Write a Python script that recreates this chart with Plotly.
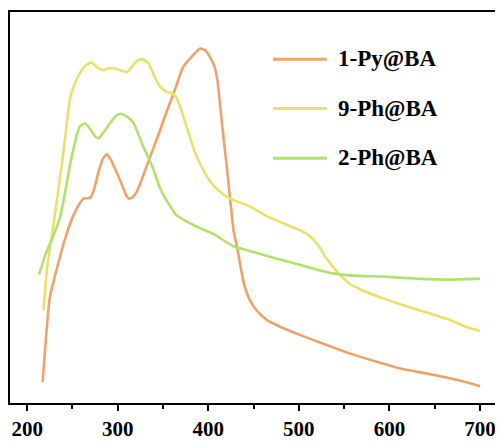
import plotly.graph_objects as go

# Wavelength (nm) and relative absorbance (arbitrary units)
py_x = [217, 225, 233, 242, 251, 258, 262, 270, 274, 279, 284, 288, 292, 296, 300, 305,
        309, 312, 316, 321, 326, 336, 345, 352, 363, 372, 380, 386, 391, 397, 402, 407,
        410, 415, 421, 428, 432, 439, 446, 455, 465, 480, 501, 530, 557, 585, 612, 640,
        667, 685, 700]
py_y = [21, 107, 137, 167, 190, 202, 207, 208, 217, 235, 248, 252, 247, 239, 231, 220,
        211, 207, 208, 214, 225, 250, 272, 290, 317, 340, 349, 355, 359, 357, 350, 340,
        327, 284, 234, 174, 157, 122, 104, 92, 84, 77, 69, 59, 50, 42, 35, 30, 25, 21, 17]

ph9_x = [218, 222, 228, 233, 239, 243, 247, 252, 258, 265, 271, 277, 284, 290, 295, 303,
         310, 316, 322, 328, 334, 340, 346, 354, 360, 365, 370, 376, 384, 391, 398, 405,
         413, 422, 432, 446, 465, 483, 501, 512, 522, 530, 545, 556, 568, 590, 612, 640,
         667, 685, 700]
ph9_y = [94, 137, 174, 207, 247, 277, 307, 322, 334, 342, 345, 340, 337, 339, 339, 337,
         335, 341, 347, 348, 344, 332, 321, 315, 314, 309, 297, 280, 257, 242, 230, 221,
         214, 208, 204, 199, 189, 182, 175, 169, 159, 147, 130, 121, 115, 107, 100, 92,
         84, 77, 73]

ph2_x = [213, 220, 229, 236, 242, 247, 251, 255, 258, 264, 270, 275, 279, 285, 292, 298,
         303, 310, 317, 322, 328, 338, 347, 356, 365, 378, 391, 406, 427, 446, 465, 501,
         534, 560, 593, 630, 667, 700]
ph2_y = [130, 150, 170, 187, 214, 240, 257, 272, 280, 283, 277, 270, 268, 275, 284, 291,
         293, 290, 284, 274, 260, 240, 217, 202, 190, 183, 177, 171, 159, 154, 149, 140,
         132, 129, 128, 126, 125, 126]

names = ["1-Py@BA", "9-Ph@BA", "2-Ph@BA"]
colors = ["#EFA26C", "#E6E26A", "#B2E26C"]
xs = [py_x, ph9_x, ph2_x]
ys = [py_y, ph9_y, ph2_y]

tick_vals = [200, 300, 400, 500, 600, 700]
tick_text = ["200", "300", "400", "500", "600", "700"]

serif = "Times New Roman, Liberation Serif, serif"

fig = go.Figure()
for n, c, x, y in zip(names, colors, xs, ys):
    fig.add_trace(go.Scatter(x=x, y=y, mode="lines", name=n,
                             line=dict(color=c, width=2.6, shape="spline", smoothing=0.5),
                             showlegend=False))

# legend drawn as line samples + text labels
leg_y = [0.879, 0.753, 0.626]
for n, c, ly in zip(names, colors, leg_y):
    fig.add_shape(type="line", xref="paper", yref="paper", x0=0.538, x1=0.648, y0=ly, y1=ly,
                  line=dict(color=c, width=3))
    fig.add_annotation(xref="paper", yref="paper", x=0.666, y=ly, text="<b>%s</b>" % n, showarrow=False,
                       xanchor="left", yanchor="middle",
                       font=dict(family=serif, size=23, color="black"))

# page body has an 8px margin; size the figure to fill the rest of the window
fig.update_layout(
    width=495, height=435,
    margin=dict(l=2, r=4, t=3, b=36),
    paper_bgcolor="white", plot_bgcolor="white",
    xaxis=dict(range=[181, 721], tickvals=tick_vals, ticktext=["<b>%s</b>" % t for t in tick_text],
               ticks="outside", ticklen=6, tickwidth=2, tickcolor="black",
               minor=dict(dtick=50, tick0=200, ticks="outside", ticklen=4, tickwidth=2, tickcolor="black"),
               showline=True, linewidth=2, linecolor="black", mirror=True,
               showgrid=False, zeroline=False,
               tickfont=dict(family=serif, size=21, color="black")),
    yaxis=dict(range=[0, 396], showticklabels=False, ticks="",
               showline=True, linewidth=2, linecolor="black", mirror=True,
               showgrid=False, zeroline=False),
)

fig.write_html("out.html")
